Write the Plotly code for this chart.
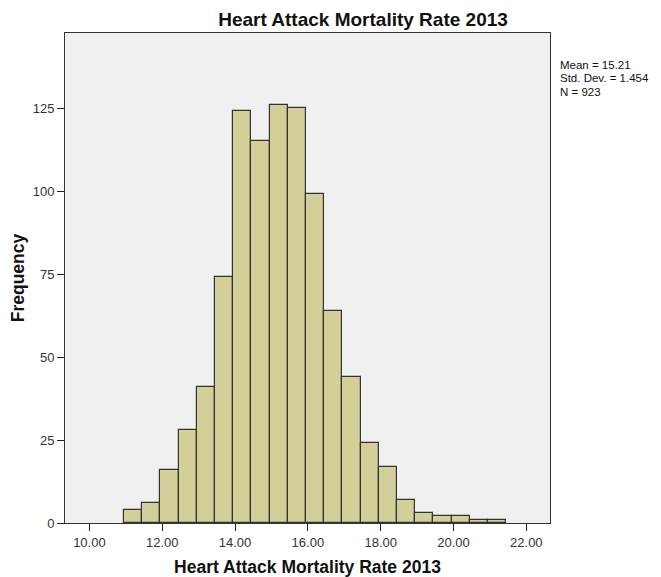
import plotly.graph_objects as go

# Data
bin_start = 10.95
bin_width = 0.5
counts = [4, 6, 16, 28, 41, 74, 124, 115, 126, 125, 99, 64, 44, 24, 17, 7, 3, 2, 2, 1, 1]
x_tick_vals = [10, 12, 14, 16, 18, 20, 22]
x_tick_text = ["10.00", "12.00", "14.00", "16.00", "18.00", "20.00", "22.00"]
y_tick_vals = [0, 25, 50, 75, 100, 125]
stats_text = ["Mean = 15.21", "Std. Dev. = 1.454", "N = 923"]
title_text = "Heart Attack Mortality Rate 2013"

centers = [bin_start + bin_width * (i + 0.5) for i in range(len(counts))]

FONT = "Arial, 'Liberation Sans', sans-serif"
# page has an 8px body margin, so the figure is 8px smaller than the window
OFF = 8
W, H = 661 - OFF, 577 - OFF
ML, MR, MT, MB = 65 - OFF, 111, 33 - OFF, 54
PW, PH = W - ML - MR, H - MT - MB

fig = go.Figure(
    go.Bar(
        x=centers,
        y=counts,
        width=[bin_width] * len(counts),
        marker=dict(color="#d3cf98", line=dict(color="#333333", width=1.2)),
        hoverinfo="x+y",
    )
)

annotations = []
for i, line in enumerate(stats_text):
    annotations.append(dict(
        text=line,
        xref="paper", yref="paper",
        x=1 + 8 / PW, y=1 - (32 + 13.3 * i) / PH,
        xanchor="left", yanchor="middle",
        align="left",
        showarrow=False,
        font=dict(size=11.5, color="#111111", family=FONT),
    ))

fig.update_layout(
    width=W,
    height=H,
    margin=dict(l=ML, r=MR, t=MT, b=MB),
    paper_bgcolor="white",
    plot_bgcolor="#f0f0f0",
    font=dict(family=FONT, color="#222222"),
    showlegend=False,
    bargap=0,
    title=dict(
        text="<b>" + title_text + "</b>",
        x=(363 - OFF) / W, xanchor="center",
        y=1 - (19 - OFF) / H, yanchor="middle",
        font=dict(size=19, color="#111111", family=FONT),
    ),
    xaxis=dict(
        range=[9.33, 22.65],
        tickvals=x_tick_vals,
        ticktext=x_tick_text,
        ticks="outside",
        ticklen=7,
        tickcolor="#222222",
        tickfont=dict(size=13, color="#333333"),
        showgrid=False,
        zeroline=False,
        showline=True,
        linecolor="#333333",
        linewidth=1,
        mirror=True,
        automargin=False,
        title=dict(text="<b>" + title_text + "</b>", font=dict(size=17.5, color="#111111"), standoff=12),
    ),
    yaxis=dict(
        range=[0, 147.6],
        tickvals=y_tick_vals,
        ticks="outside",
        ticklen=7,
        tickcolor="#222222",
        tickfont=dict(size=13, color="#333333"),
        showgrid=False,
        zeroline=False,
        showline=True,
        linecolor="#333333",
        linewidth=1,
        mirror=True,
        automargin=False,
        title=dict(text="<b>Frequency</b>", font=dict(size=17.5, color="#111111"), standoff=8),
    ),
    annotations=annotations,
)

fig.write_html("out.html")
